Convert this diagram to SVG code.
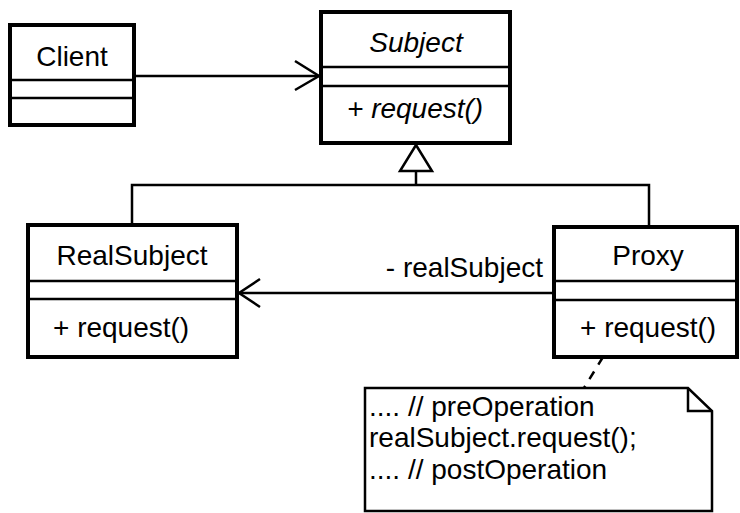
<svg xmlns="http://www.w3.org/2000/svg" width="740" height="513" viewBox="0 0 740 513">
<style>
.box{fill:#fff;stroke:#000;stroke-width:4}
.div{stroke:#000;stroke-width:2.5;fill:none}
.line{stroke:#000;stroke-width:2.5;fill:none}
text{font-family:"Liberation Sans",Arial,sans-serif;font-size:28px;fill:#000}
.c{text-anchor:middle}
.i{font-style:italic}
</style>
<rect width="740" height="513" fill="#fff"/>
<g id="connectors">
  <line class="line" x1="134" y1="76" x2="319" y2="76"/>
  <polyline class="line" points="295,61 319,76 295,90"/>
  <line class="line" x1="416" y1="171" x2="416" y2="185"/>
  <polygon points="416,145 400,171 432,171" fill="#fff" stroke="#000" stroke-width="2.5"/>
  <polyline class="line" points="132,225 132,185 649,185 649,227"/>
  <line class="line" x1="554" y1="293" x2="239" y2="293"/>
  <polyline class="line" points="260,279 239,293 260,307"/>
  <text x="543" y="277" text-anchor="end">- realSubject</text>
  <line class="line" x1="603" y1="357" x2="584" y2="388" stroke-dasharray="9,8"/>
</g>
<g id="client">
  <rect class="box" x="10" y="25" width="124" height="100"/>
  <line class="div" x1="10" y1="80" x2="134" y2="80"/>
  <line class="div" x1="10" y1="98" x2="134" y2="98"/>
  <text class="c" x="72" y="66">Client</text>
</g>
<g id="subject">
  <rect class="box" x="321" y="12" width="189" height="131"/>
  <line class="div" x1="321" y1="67" x2="510" y2="67"/>
  <line class="div" x1="321" y1="86" x2="510" y2="86"/>
  <text class="c i" x="416" y="52">Subject</text>
  <text class="i" x="347" y="118">+ request()</text>
</g>
<g id="realsubject">
  <rect class="box" x="28" y="225" width="209" height="132"/>
  <line class="div" x1="28" y1="281" x2="237" y2="281"/>
  <line class="div" x1="28" y1="299" x2="237" y2="299"/>
  <text class="c" x="132" y="265">RealSubject</text>
  <text x="53" y="337">+ request()</text>
</g>
<g id="proxy">
  <rect class="box" x="554" y="227" width="183" height="130"/>
  <line class="div" x1="554" y1="281" x2="737" y2="281"/>
  <line class="div" x1="554" y1="300" x2="737" y2="300"/>
  <text class="c" x="648" y="265">Proxy</text>
  <text x="580" y="337">+ request()</text>
</g>
<g id="note">
  <polygon points="365,388 688,388 712,411 712,511 365,511" fill="#fff" stroke="#000" stroke-width="2.5"/>
  <polyline class="line" points="688,388 688,411 712,411"/>
  <text x="369" y="416">.... // preOperation</text>
  <text x="369" y="447">realSubject.request();</text>
  <text x="369" y="479">.... // postOperation</text>
</g>
</svg>
